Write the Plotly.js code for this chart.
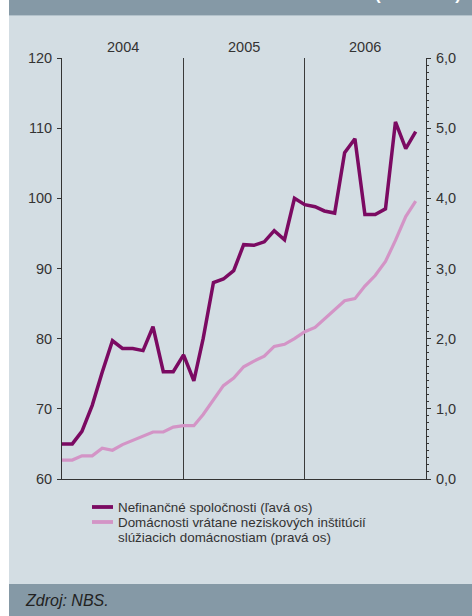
<!DOCTYPE html>
<html>
<head>
<meta charset="utf-8">
<script src="https://cdn.plot.ly/plotly-3.0.1.min.js"></script>
<style>html,body{margin:0;padding:0;background:#fff;}#chart{width:472px;height:616px;}</style>
</head>
<body>
<div id="chart"></div>
<script>
const months = ['2004-01','2004-02','2004-03','2004-04','2004-05','2004-06','2004-07','2004-08','2004-09','2004-10','2004-11','2004-12',
                '2005-01','2005-02','2005-03','2005-04','2005-05','2005-06','2005-07','2005-08','2005-09','2005-10','2005-11','2005-12',
                '2006-01','2006-02','2006-03','2006-04','2006-05','2006-06','2006-07','2006-08','2006-09','2006-10','2006-11','2006-12'];
const corporations = [65.0, 65.0, 66.8, 70.5, 75.2, 79.7, 78.6, 78.6, 78.3, 81.7, 75.3, 75.3,
                      77.7, 74.0, 80.0, 88.0, 88.5, 89.7, 93.4, 93.3, 93.8, 95.4, 94.1, 100.0,
                      99.1, 98.8, 98.2, 97.9, 106.5, 108.5, 97.7, 97.7, 98.5, 110.9, 107.1, 109.5];
const households = [0.27, 0.27, 0.33, 0.33, 0.44, 0.41, 0.49, 0.55, 0.60, 0.67, 0.67, 0.74,
                    0.76, 0.76, 0.92, 1.13, 1.33, 1.44, 1.60, 1.68, 1.75, 1.89, 1.92, 2.00,
                    2.10, 2.16, 2.28, 2.42, 2.54, 2.57, 2.75, 2.90, 3.10, 3.40, 3.74, 3.96];
const yearLabels = ['2004', '2005', '2006'];
const yearCenters = ['2004-07-02', '2005-07-02', '2006-07-02'];
const seriesNames = ['Nefinančné spoločnosti (ľavá os)', 'Domácnosti vrátane neziskových inštitúcií', 'slúžiacich domácnostiam (pravá os)'];
const sourceText = 'Zdroj: NBS.';
const headerText = '(v mld. Sk)';

const darkColor = '#7b0a62';
const lightColor = '#d394c6';
const bgColor = '#d3dde3';
const barColor = '#8599a6';
const axisColor = '#333333';
const FONT = 'Liberation Sans, Arial, sans-serif';

// plot area: x 62..426, y 58..479
const L = 62, R = 426, T = 58, B = 479, W = 472, H = 616;
const px = v => (v - L) / (R - L);
const py = v => (B - v) / (B - T);

const traces = [
  {x: months, y: households, yaxis: 'y2', type: 'scatter', mode: 'lines',
   line: {color: lightColor, width: 3.2}, name: seriesNames[1], showlegend: false, hoverinfo: 'skip'},
  {x: months, y: corporations, yaxis: 'y', type: 'scatter', mode: 'lines',
   line: {color: darkColor, width: 3.5}, name: seriesNames[0], showlegend: false, hoverinfo: 'skip'}
];

const legendRows = [507, 522, 537];

const shapes = [
  {type: 'rect', xref: 'paper', yref: 'paper', x0: px(9), x1: px(W), y0: py(584), y1: py(15), fillcolor: bgColor, line: {width: 0}, layer: 'below'},
  {type: 'rect', xref: 'paper', yref: 'paper', x0: px(9), x1: px(W), y0: py(15), y1: py(0), fillcolor: barColor, line: {width: 0}, layer: 'below'},
  {type: 'line', xref: 'paper', yref: 'paper', x0: px(9), x1: px(W), y0: py(15.5), y1: py(15.5), line: {color: '#b3c2cb', width: 1}, layer: 'below'},
  {type: 'rect', xref: 'paper', yref: 'paper', x0: px(9), x1: px(W), y0: py(H), y1: py(584), fillcolor: barColor, line: {width: 0}, layer: 'below'},
  // legend samples
  {type: 'line', xref: 'paper', yref: 'paper', x0: px(92), x1: px(113), y0: py(legendRows[0]), y1: py(legendRows[0]), line: {color: darkColor, width: 3.8}},
  {type: 'line', xref: 'paper', yref: 'paper', x0: px(92), x1: px(113), y0: py(legendRows[1]), y1: py(legendRows[1]), line: {color: lightColor, width: 3.8}}
];

const annotations = yearLabels.map((t, i) => ({
  text: t, x: yearCenters[i], xref: 'x', y: py(47), yref: 'paper', showarrow: false,
  xanchor: 'center', yanchor: 'middle', font: {family: FONT, size: 14.5, color: axisColor}
}));
legendRows.forEach((yy, i) => annotations.push({
  text: seriesNames[i], x: px(117), xref: 'paper', y: py(yy), yref: 'paper', showarrow: false,
  xanchor: 'left', yanchor: 'middle', borderpad: 0, font: {family: FONT, size: 13.4, color: axisColor}
}));
annotations.push({
  text: '<i>' + sourceText + '</i>', x: px(23), xref: 'paper', y: py(600), yref: 'paper', showarrow: false,
  xanchor: 'left', yanchor: 'middle', font: {family: FONT, size: 16, color: '#222222'}
});
annotations.push({
  text: '<b>' + headerText + '</b>', x: px(463), xref: 'paper', y: py(6), yref: 'paper', showarrow: false,
  xanchor: 'right', yanchor: 'bottom', font: {family: FONT, size: 17, color: '#ffffff'}
});

const layout = {
  width: W, height: H,
  margin: {l: L, r: W - R, t: T, b: H - B, pad: 0},
  paper_bgcolor: '#ffffff',
  plot_bgcolor: 'rgba(0,0,0,0)',
  separators: ', ',
  showlegend: false,
  xaxis: {
    type: 'date', range: ['2004-01-01', '2007-01-01'],
    tickvals: ['2005-01-01', '2006-01-01'], showticklabels: false, ticks: '',
    showgrid: true, gridcolor: '#3a3a3a', gridwidth: 1,
    showline: true, linecolor: axisColor, linewidth: 1, zeroline: false, fixedrange: true
  },
  yaxis: {
    range: [60, 120], dtick: 10, tick0: 60, ticks: 'outside', ticklen: 4, tickcolor: axisColor, tickwidth: 1,
    showline: true, linecolor: axisColor, linewidth: 1, showgrid: false, zeroline: false,
    tickfont: {family: FONT, size: 14.5, color: axisColor}, ticklabelstandoff: 2
  },
  yaxis2: {
    overlaying: 'y', side: 'right', range: [0, 6], dtick: 1, tick0: 0, tickformat: '.1f',
    ticks: 'outside', ticklen: 4, tickcolor: axisColor, tickwidth: 1,
    minor: {dtick: 0.1, ticks: 'outside', ticklen: 2, tickcolor: axisColor, showgrid: false},
    showline: true, linecolor: axisColor, linewidth: 1, showgrid: false, zeroline: false,
    tickfont: {family: FONT, size: 14.5, color: axisColor}, ticklabelstandoff: 2
  },
  shapes: shapes,
  annotations: annotations
};

Plotly.newPlot('chart', traces, layout, {staticPlot: true, displayModeBar: false});
</script>
</body>
</html>
